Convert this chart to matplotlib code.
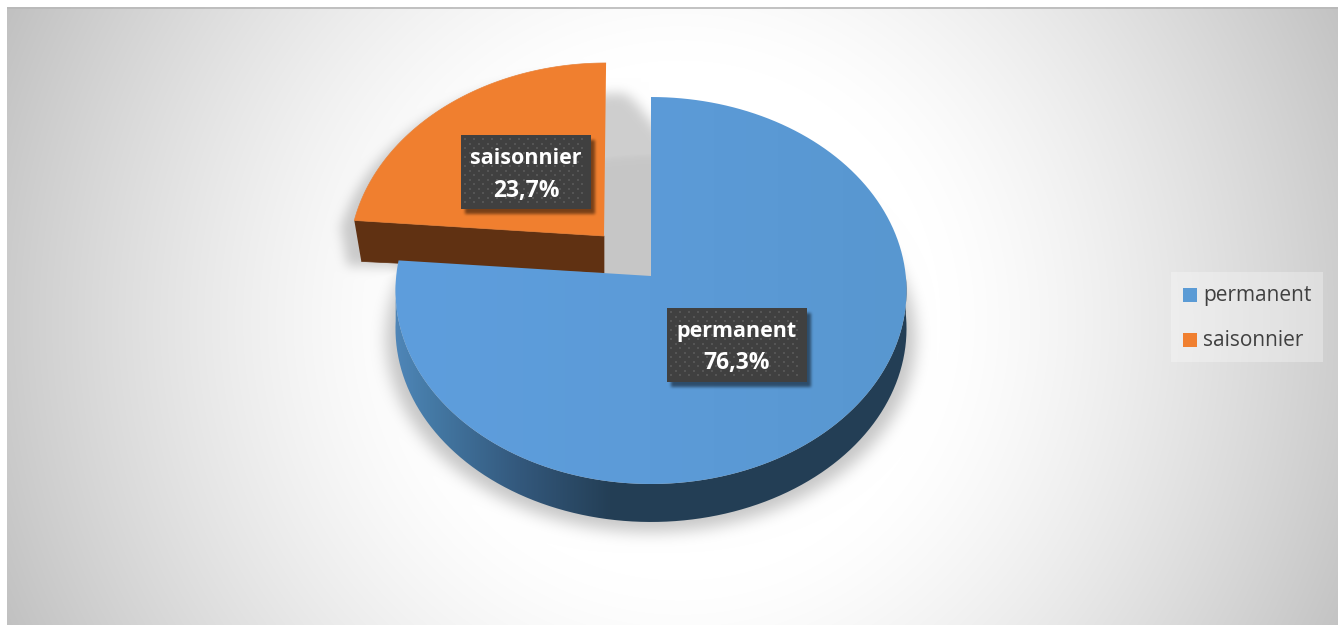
import numpy as np
import matplotlib
matplotlib.use("Agg")
import matplotlib.pyplot as plt
from matplotlib.path import Path
from matplotlib.patches import PathPatch, Rectangle
from matplotlib.colors import to_rgb

categories = ["permanent", "saisonnier"]
shares = [76.3, 23.7]
value_labels = ["76,3%", "23,7%"]
colors = ["#5b9bd5", "#f07f2f"]

W, H = 1338, 625
plt.rcParams["font.family"] = ["Open Sans", "DejaVu Sans"]

fig = plt.figure(figsize=(W / 100, H / 100), dpi=100, facecolor="white")
ax = fig.add_axes([0, 0, 1, 1])
ax.axis("off")

yy, xx = np.mgrid[0:H, 0:W]
grid = np.column_stack([xx.ravel() + 0.5, yy.ravel() + 0.5])


def blur(a, r):
    # three box passes, close enough to a gaussian
    k = np.ones(2 * r + 1) / (2 * r + 1)
    for _ in range(3):
        a = np.apply_along_axis(lambda m: np.convolve(m, k, mode="same"), 1, a)
        a = np.apply_along_axis(lambda m: np.convolve(m, k, mode="same"), 0, a)
    return a


def mask(pts):
    return Path(pts).contains_points(grid).reshape(H, W).astype(float)


def project(angle_deg, cx=651, cy=276, c=254.8, b=0.0749):
    # angle clockwise from 12 o'clock on the tilted disc, with a bit of perspective
    t = np.radians(angle_deg)
    u, v = np.sin(t), np.cos(t)
    d = 1 + b * v
    return np.column_stack([cx + c * u / d, cy - 192.4 * v / d])


# slice angles come from the shares
blue_end = 360 * shares[0] / sum(shares)
blue_rim = project(np.linspace(0, blue_end, 300))
orange_rim = project(np.linspace(blue_end, 360, 120), 604, 236, 253, 0.112)
orange_rim[:, 0] += (236 - orange_rim[:, 1]) * 0.012
blue_apex = np.array([[651, 276]])
orange_apex = np.array([[604, 236]])
blue_top = np.vstack([blue_apex, blue_rim])
orange_top = np.vstack([orange_apex, orange_rim])

# blue rim side
ang = np.linspace(90, 268, 200)
front = project(ang)
back = project(ang[::-1]) + [0, 38]
blue_side = np.vstack([front, back])
# orange cut face
orange_side = np.array([orange_rim[0], orange_apex[0], orange_apex[0] + [0, 37], orange_rim[0] + [7, 41]])

# background, radial grey
bg_r = np.hypot(xx - 680, yy - 320)
bg = 1 - np.clip((bg_r - 260) / 490.0, 0, 1) ** 1.3 * 0.25

# soft shadows under the pie, the stepped copies round off the corner behind the orange slice
sh1 = mask(orange_side + [-14, 4])
sh1 = np.maximum(sh1, mask(orange_top + [-14, 10]))
for shift in [[20, 30], [28, 34], [36, 42], [44, 52], [52, 62], [60, 72]]:
    sh1 = np.maximum(sh1, mask(orange_top + shift))
sh2 = mask(project(np.linspace(0, 360, 300), c=264) + [0, 48])
sh = np.maximum(blur(sh1, 5) * 0.19, blur(sh2, 7) * 0.22)
page = bg * (1 - sh)
page_img = np.dstack([page, page, page])[7:, 7:]
ax.imshow(page_img, extent=[7, W, H, 7], aspect="auto", zorder=1, interpolation="bilinear")
ax.plot([7, W], [7.5, 7.5], color="#b8b8b8", lw=1.2, zorder=2, solid_capstyle="butt")


def grad_fill(pts, stops_x, stops_c, z):
    x0, x1 = pts[:, 0].min(), pts[:, 0].max()
    xs = np.linspace(x0, x1, 512)
    rgb = np.array([to_rgb(c) for c in stops_c])
    img = np.column_stack([np.interp(xs, stops_x, rgb[:, i]) for i in range(3)])[None, :, :]
    im = ax.imshow(img, extent=[x0, x1, pts[:, 1].max(), pts[:, 1].min()], aspect="auto", zorder=z)
    patch = PathPatch(Path(pts), fc="none", ec="none")
    ax.add_patch(patch)
    im.set_clip_path(patch)


# orange slice
ax.add_patch(PathPatch(Path(orange_side), fc="#603112", ec="#603112", lw=0.5, zorder=3))
ax.add_patch(PathPatch(Path(orange_top), fc=colors[1], ec="#e8823a", lw=0.5, zorder=4))

# blue slice
grad_fill(blue_side, [395, 430, 520, 610, 910], ["#4f86b8", "#457aa6", "#33587c", "#243f56", "#233e55"], 5)
grad_fill(blue_top, [395, 650, 907], ["#5e9edd", "#5c9bd8", "#5897d0"], 6)

# label boxes
boxes = [(667, 308, 140, 74), (461, 135, 130, 74)]
box_sh = np.zeros((H, W))
for bx, by, bw, bh in boxes:
    box_sh[by + 5:by + bh + 5, bx + 4:bx + bw + 4] = 1
box_sh = blur(box_sh, 1) * 0.5
ax.imshow(np.dstack([np.zeros((H, W, 3)), box_sh]), extent=[0, W, H, 0], aspect="auto", zorder=7)

for (bx, by, bw, bh), name, val in zip(boxes, categories, value_labels):
    ax.add_patch(Rectangle((bx, by), bw, bh, fc="#404040", ec="none", zorder=8))
    dx = np.arange(bx + 4, bx + bw - 1, 9)
    dy = np.arange(by + 4, by + bh - 1, 9)
    gx, gy = np.meshgrid(dx, dy)
    ax.scatter(gx.ravel(), gy.ravel(), s=2.2, marker="s", c="#555555", linewidths=0, zorder=9)
    gx2, gy2 = np.meshgrid(dx[:-1] + 4.5, dy[:-1] + 4.5)
    ax.scatter(gx2.ravel(), gy2.ravel(), s=2.2, marker="s", c="#555555", linewidths=0, zorder=9)
    ax.text(bx + bw / 2, by + 23, name, color="white", fontsize=15.5, fontweight="bold",
            ha="center", va="center", zorder=10)
    ax.text(bx + bw / 2, by + 55.5, val, color="white", fontsize=16.5, fontweight="bold",
            ha="center", va="center", zorder=10)

# legend
ax.add_patch(Rectangle((1171, 272), 152, 90, fc="white", alpha=0.3, ec="none", zorder=7))
for y, name, col in zip([295, 340], categories, colors):
    ax.add_patch(Rectangle((1183, y - 7), 14, 14, fc=col, ec="none", zorder=8))
    ax.text(1203, y + 1, name, color="#404040", fontsize=15, ha="left", va="center", zorder=8)

ax.set_xlim(0, W)
ax.set_ylim(H, 0)
fig.savefig("out.png", dpi=100)
